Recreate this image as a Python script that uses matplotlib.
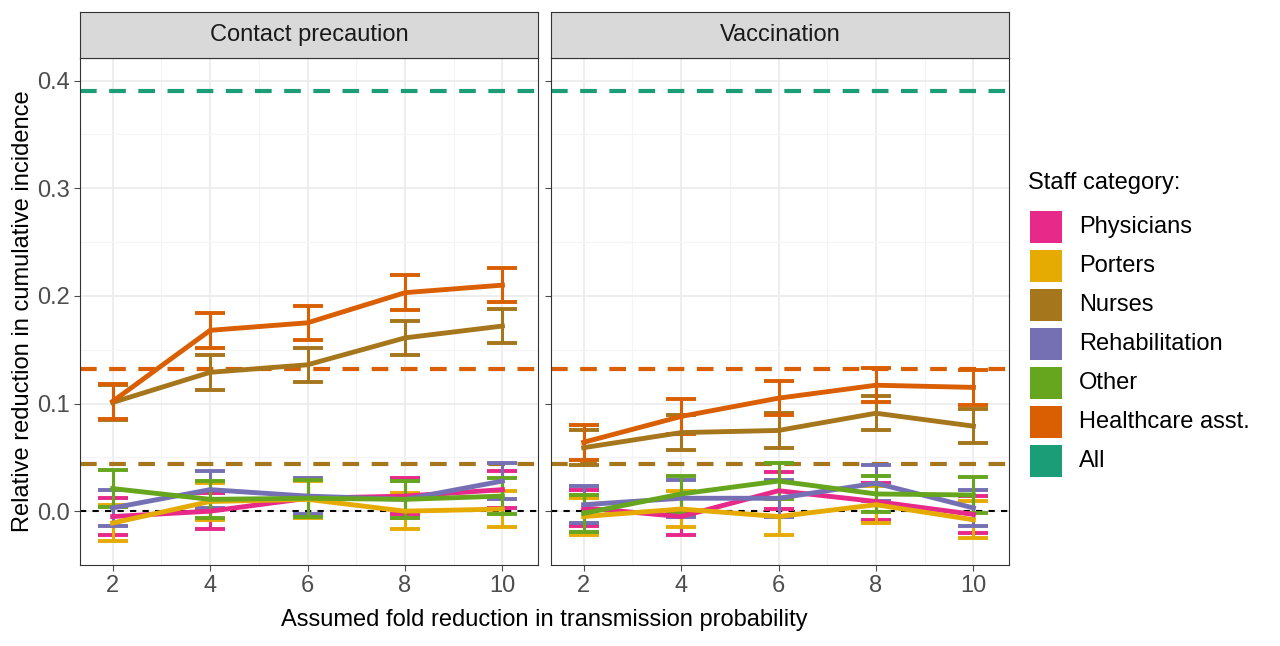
import numpy as np
import matplotlib.pyplot as plt
from matplotlib.patches import Rectangle

plt.rcParams['font.family'] = ['Liberation Sans', 'DejaVu Sans']

fold = [2, 4, 6, 8, 10]
categories = ["Physicians", "Porters", "Nurses", "Rehabilitation", "Other", "Healthcare asst.", "All"]
colors = ["#E7298A", "#E6AB02", "#A6761D", "#7570B3", "#66A61E", "#D95F02", "#1B9E77"]

# mean values per panel
contact = {
    "Physicians": [-0.005, 0.000, 0.012, 0.014, 0.020],
    "Porters": [-0.011, 0.009, 0.011, 0.000, 0.002],
    "Nurses": [0.101, 0.129, 0.136, 0.161, 0.172],
    "Rehabilitation": [0.003, 0.020, 0.014, 0.011, 0.028],
    "Other": [0.021, 0.011, 0.012, 0.011, 0.014],
    "Healthcare asst.": [0.102, 0.168, 0.175, 0.203, 0.210],
}
vaccination = {
    "Physicians": [0.003, -0.005, 0.019, 0.009, -0.003],
    "Porters": [-0.005, 0.002, -0.005, 0.006, -0.008],
    "Nurses": [0.059, 0.073, 0.075, 0.091, 0.079],
    "Rehabilitation": [0.006, 0.012, 0.012, 0.026, 0.003],
    "Other": [-0.002, 0.016, 0.028, 0.016, 0.015],
    "Healthcare asst.": [0.064, 0.088, 0.105, 0.117, 0.115],
}
err_half = {"Physicians": 0.017, "Porters": 0.017, "Nurses": 0.016, "Rehabilitation": 0.017,
            "Other": 0.017, "Healthcare asst.": 0.016}
# baseline reductions (dashed lines)
baseline = {"Nurses": 0.044, "Healthcare asst.": 0.132, "All": 0.39}

fig = plt.figure(figsize=(12.8, 6.46), dpi=100)
W, H = 1280, 646
panels = [("Contact precaution", contact, 80), ("Vaccination", vaccination, 551)]
for i, (title, data, left) in enumerate(panels):
    ax = fig.add_axes([left / W, 1 - 565 / H, 458 / W, (565 - 58) / H])
    ax.set_xlim(1.33, 10.73)
    ax.set_ylim(-0.05, 0.421)
    ax.set_xticks(fold)
    ax.set_yticks([0, 0.1, 0.2, 0.3, 0.4])
    ax.set_xticks([3, 5, 7, 9], minor=True)
    ax.set_yticks([0.05, 0.15, 0.25, 0.35], minor=True)
    ax.grid(True, which='major', color='#EBEBEB', lw=1.2)
    ax.grid(True, which='minor', color='#F4F4F4', lw=0.8)
    ax.set_axisbelow(True)
    for s in ax.spines.values():
        s.set_color('#333333')
    ax.tick_params(which='minor', length=0)
    ax.tick_params(which='major', labelsize=17, colors='#4D4D4D', length=4)
    if i == 0:
        ax.set_yticklabels(["0.0", "0.1", "0.2", "0.3", "0.4"])
        ax.set_ylabel("Relative reduction in cumulative incidence", fontsize=17, labelpad=2)
    else:
        ax.set_yticklabels([])
    ax.axhline(0, color='black', ls=(0, (3, 3)), lw=1.5, zorder=1)
    for cat, val in baseline.items():
        c = colors[categories.index(cat)]
        ax.axhline(val, color=c, ls=(0, (4, 3)), lw=3, zorder=2)
    for cat in ["Physicians", "Porters", "Nurses", "Rehabilitation", "Other", "Healthcare asst."]:
        c = colors[categories.index(cat)]
        y = np.array(data[cat])
        ax.errorbar(fold, y, yerr=err_half[cat], color=c, lw=3.5, elinewidth=2.2,
                    capsize=11, capthick=2.8, zorder=3)
    # facet strip
    sax = fig.add_axes([left / W, 1 - 58 / H, 458 / W, 46 / H])
    sax.set_xticks([]); sax.set_yticks([])
    sax.set_facecolor('#D9D9D9')
    for s in sax.spines.values():
        s.set_color('#333333')
    sax.text(0.5, 0.5, title, ha='center', va='center', fontsize=17, color='#1A1A1A',
             transform=sax.transAxes)

fig.text(544 / W, 1 - 620 / H, "Assumed fold reduction in transmission probability",
         ha='center', va='center', fontsize=17)

# legend
fig.text(1028 / W, 1 - 183 / H, "Staff category:", fontsize=17, va='center')
for k, (cat, c) in enumerate(zip(categories, colors)):
    yc = 227 + k * 39
    fig.patches.append(Rectangle((1030 / W, 1 - (yc + 16) / H), 32 / W, 32 / H,
                                 facecolor=c, transform=fig.transFigure))
    fig.text(1079 / W, 1 - yc / H, cat, fontsize=17, va='center')

fig.savefig("out.png", dpi=100)
